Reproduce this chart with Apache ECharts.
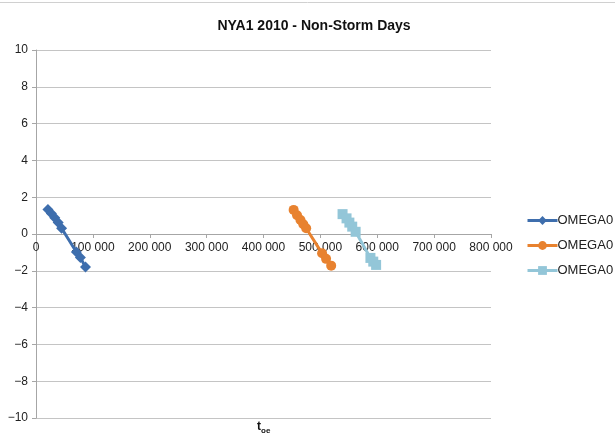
<!DOCTYPE html>
<html>
<head>
<meta charset="utf-8">
<script src="https://cdn.jsdelivr.net/npm/echarts@6/dist/echarts.min.js"></script>
<style>
  html, body { margin: 0; padding: 0; background: #fff; }
  #chart { width: 615px; height: 435px; }
</style>
</head>
<body>
<div id="chart"></div>
<script>
// values: [t_oe, OMEGA0]
const seriesNames = ["OMEGA0", "OMEGA0", "OMEGA0"];
const blueData = [
  [21000, 1.33], [27000, 1.12], [33000, 0.88], [39000, 0.62],
  [45000, 0.31], [71000, -0.98], [78000, -1.28], [87000, -1.8]
];
const orangeData = [
  [453000, 1.31], [459000, 1.02], [465000, 0.76], [470000, 0.53],
  [475000, 0.31], [503000, -1.05], [510000, -1.35], [519000, -1.72]
];
const cyanData = [
  [539000, 1.08], [546000, 0.85], [551000, 0.62], [556000, 0.4],
  [562000, 0.12], [588000, -1.3], [593000, -1.5], [598000, -1.68]
];
const colors = ["#3E6EAD", "#E8822F", "#93C6D8"];
const symbols = ["diamond", "circle", "rect"];

const font = "'Liberation Sans', Arial, sans-serif";
const fmtX = (v) => (v === 0 ? "0" : String(v).replace(/\B(?=(\d{3})+(?!\d))/g, " "));
const fmtY = (v) => (v < 0 ? "\u2212" + Math.abs(v) : String(v));

const chart = echarts.init(document.getElementById("chart"));
chart.setOption({
  animation: false,
  backgroundColor: "#fff",
  textStyle: { fontFamily: font },
  title: {
    text: "NYA1 2010 - Non-Storm Days",
    left: 309,
    textAlign: "center",
    top: 14,
    textStyle: { fontSize: 14, fontWeight: "bold", color: "#111", fontFamily: font },
  },
  legend: {
    orient: "vertical",
    left: 521,
    top: 209,
    itemWidth: 30,
    itemHeight: 11,
    itemGap: 12,
    textStyle: { fontSize: 13, color: "#222", padding: [0, 0, 0, -5] },
    lineStyle: { width: 3 },
    data: [0, 1, 2].map((i) => ({ name: "s" + i, itemStyle: { color: colors[i] } })),
    formatter: (name) => seriesNames[+name.slice(1)],
  },
  grid: { left: 36, right: 124, top: 50, bottom: 17 },
  xAxis: {
    type: "value",
    min: 0,
    max: 800000,
    interval: 100000,
    // sit the axis on y = 0 (middle of the plot)
    offset: -184,
    axisLine: { onZero: false, lineStyle: { color: "#a6a6a6", width: 1 } },
    axisTick: { show: true, length: 4, lineStyle: { color: "#a6a6a6" } },
    axisLabel: { fontSize: 12, color: "#222", margin: 8, formatter: fmtX },
    splitLine: { show: false },
  },
  yAxis: {
    type: "value",
    min: -10,
    max: 10,
    interval: 2,
    axisLine: { show: true, onZero: false, lineStyle: { color: "#a6a6a6" } },
    axisTick: { show: true, length: 4, lineStyle: { color: "#a6a6a6" } },
    axisLabel: { fontSize: 12, color: "#222", margin: 8, formatter: fmtY },
    splitLine: { lineStyle: { color: "#c4c4c4", width: 1 } },
  },
  graphic: [
    {
      type: "line",
      shape: { x1: 0, y1: 2.5, x2: 615, y2: 2.5 },
      style: { stroke: "#d0d0d0", lineWidth: 1 },
    },
    {
      type: "text",
      left: 257,
      top: 421,
      style: {
        text: "{a|t}{b|oe}",
        rich: {
          a: { fontSize: 12, fontWeight: "bold", fontFamily: font, fill: "#111" },
          b: { fontSize: 8, fontWeight: "bold", fontFamily: font, fill: "#111", padding: [7, 0, 0, 0] },
        },
      },
    },
  ],
  series: [blueData, orangeData, cyanData].map((d, i) => ({
    name: "s" + i,
    type: "line",
    data: d,
    symbol: symbols[i],
    symbolSize: i === 0 ? 11 : 10,
    showAllSymbol: true,
    color: colors[i],
    lineStyle: { width: 3, color: colors[i] },
    itemStyle: { color: colors[i] },
  })),
});
</script>
</body>
</html>
